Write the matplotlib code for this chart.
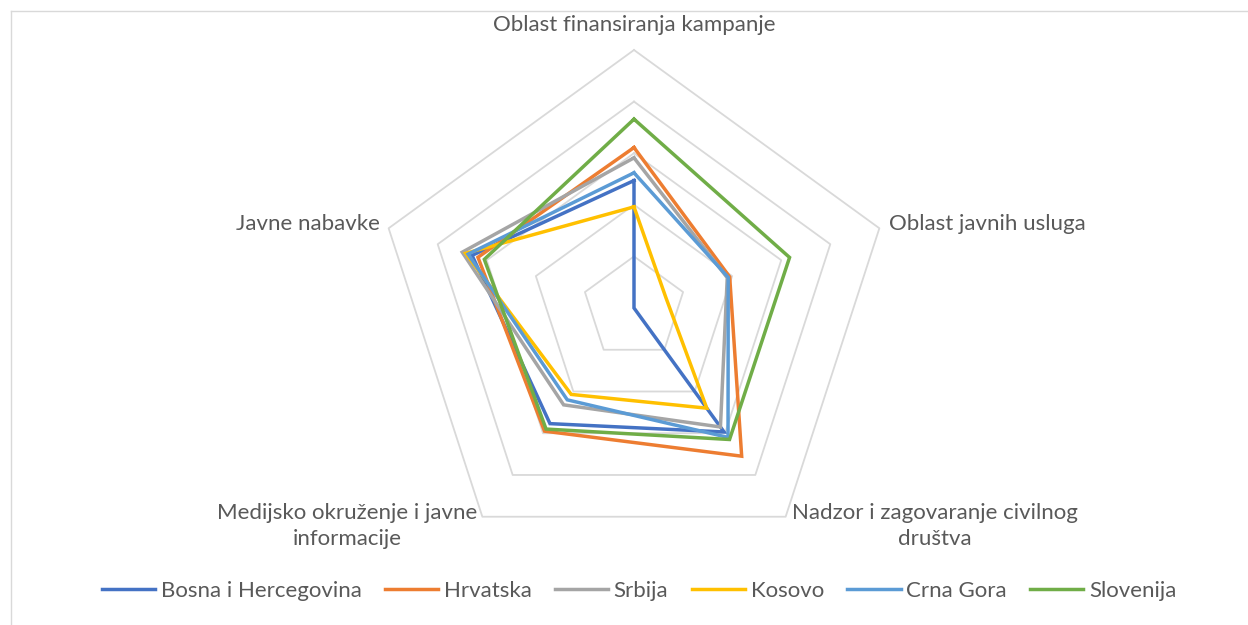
import numpy as np
import matplotlib
matplotlib.use("Agg")
import matplotlib.pyplot as plt
from matplotlib.lines import Line2D

categories = ['Oblast finansiranja kampanje', 'Oblast javnih usluga',
              'Nadzor i zagovaranje civilnog\ndruštva',
              'Medijsko okruženje i javne\ninformacije', 'Javne nabavke']
series_names = ['Bosna i Hercegovina', 'Hrvatska', 'Srbija', 'Kosovo', 'Crna Gora', 'Slovenija']
bih = [2.47, 0.0, 2.97, 2.77, 3.30]
hrvatska = [3.11, 1.95, 3.55, 2.95, 3.18]
srbija = [2.91, 1.90, 2.85, 2.32, 3.50]
kosovo = [1.96, 0.65, 2.40, 2.07, 3.43]
crna_gora = [2.62, 1.92, 3.10, 2.20, 3.38]
slovenija = [3.66, 3.17, 3.15, 2.90, 3.05]
grid_levels = [1, 2, 3, 4, 5]

values = [bih, hrvatska, srbija, kosovo, crna_gora, slovenija]
colors = ['#4472C4', '#ED7D31', '#A5A5A5', '#FFC000', '#5B9BD5', '#70AD47']
text_color = '#595959'

plt.rcParams['font.family'] = ['Lato', 'DejaVu Sans']

W, H = 1248, 625
fig = plt.figure(figsize=(W / 100, H / 100), dpi=100)
cx, cy, R = 634, 308, 258
ax = fig.add_axes([(cx - R) / W, (H - cy - R) / H, 2 * R / W, 2 * R / H], projection='polar')
ax.set_theta_zero_location('N')
ax.set_theta_direction(-1)
ax.set_ylim(0, 5)
ax.grid(False)
ax.set_xticks([])
ax.set_yticks([])
ax.spines['polar'].set_visible(False)
ax.patch.set_visible(False)

n = len(categories)
theta = np.arange(n) * 2 * np.pi / n
theta_c = np.append(theta, theta[0])

for lv in grid_levels:
    ax.plot(theta_c, [lv] * (n + 1), color='#D9D9D9', lw=1.3, zorder=1, clip_on=False)

for name, vals, col in zip(series_names, values, colors):
    v = list(vals) + [vals[0]]
    ax.plot(theta_c, v, color=col, lw=2.5, solid_joinstyle='miter', zorder=3, clip_on=False, label=name)

# category labels
fs = 16
offsets = [((0, 15), 'center', 'bottom'),
           ((10, 4), 'left', 'center'),
           ((6, -9), 'left', 'center'),
           ((-5, -9), 'right', 'center'),
           ((-9, 4), 'right', 'center')]
for t, lab, (off, ha, va) in zip(theta, categories, offsets):
    ax.annotate(lab, xy=(t, 5), xytext=off, textcoords='offset pixels',
                ha=ha, va=va, multialignment='center', fontsize=fs,
                color=text_color, annotation_clip=False, linespacing=1.4)

handles = [Line2D([], [], color=c, lw=2.5) for c in colors]
fig.legend(handles, series_names, loc='center', bbox_to_anchor=(0.512, 1 - 591 / H),
           ncol=6, frameon=False, fontsize=fs, handlelength=2.4, handletextpad=0.25,
           columnspacing=1.05, labelcolor=text_color)

# chart area border (top and left visible)
fig.add_artist(Line2D([10.5 / W, 10.5 / W], [0, 1 - 10.5 / H], color='#D9D9D9', lw=1,
                      transform=fig.transFigure))
fig.add_artist(Line2D([10.5 / W, 1], [1 - 10.5 / H, 1 - 10.5 / H], color='#D9D9D9', lw=1,
                      transform=fig.transFigure))

fig.savefig('out.png', dpi=100, facecolor='white')
